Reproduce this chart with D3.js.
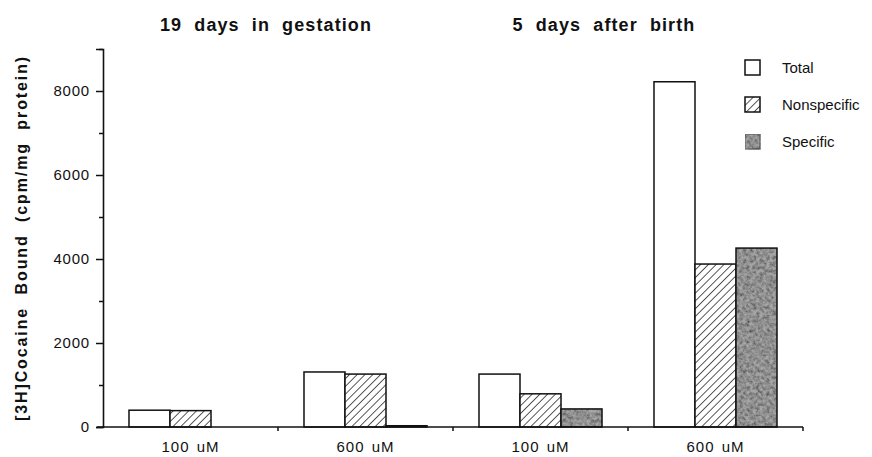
<!DOCTYPE html>
<html>
<head>
<meta charset="utf-8">
<script src="https://d3js.org/d3.v7.min.js"></script>
<style>
  body { margin: 0; background: #fff; }
  svg text { font-family: "Liberation Sans", Arial, sans-serif; fill: #111; }
</style>
</head>
<body>
<div id="chart"></div>
<script>
"use strict"

// data
var groups = ["100 uM", "600 uM", "100 uM", "600 uM"];
var panels = ["19 days in gestation", "5 days after birth"];
var series = ["Total", "Nonspecific", "Specific"];
var total = [400, 1310, 1260, 8220];
var nonspecific = [390, 1260, 790, 3880];
var specific = [0, 30, 430, 4260];
var yTicks = [0, 2000, 4000, 6000, 8000];
var yMinor = [1000, 3000, 5000, 7000, 9000];

var W = 872, H = 457;
var margin = { left: 103, right: 69, top: 49, bottom: 30 };

var svg = d3.select('#chart').append('svg')
    .attr('width', W).attr('height', H);

var defs = svg.append('defs');
defs.append('pattern')
    .attr('id', 'hatch')
    .attr('patternUnits', 'userSpaceOnUse')
    .attr('width', 5.5).attr('height', 5.5)
    .attr('patternTransform', 'rotate(45)')
    .append('line')
    .attr('x1', 0).attr('y1', 0).attr('x2', 0).attr('y2', 5.5)
    .attr('stroke', '#111').attr('stroke-width', 1.4);

// mottled grey for the "Specific" bars
var f = defs.append('filter').attr('id', 'grain')
    .attr('filterUnits', 'userSpaceOnUse')
    .attr('x', 0).attr('y', 0).attr('width', W).attr('height', H);
f.append('feTurbulence').attr('type', 'fractalNoise')
    .attr('baseFrequency', 0.3).attr('numOctaves', 3).attr('seed', 7).attr('result', 'n');
f.append('feColorMatrix').attr('in', 'n').attr('type', 'matrix')
    .attr('values', '1.3 0 0 0 0.05  1.3 0 0 0 0.05  1.3 0 0 0 0.05  0 0 0 0 1')
    .attr('result', 'g');
f.append('feComposite').attr('in', 'g').attr('in2', 'SourceGraphic').attr('operator', 'in')
    .attr('result', 'gi');
f.append('feBlend').attr('in', 'SourceGraphic').attr('in2', 'gi').attr('mode', 'multiply');

var fills = { Total: '#fff', Nonspecific: 'url(#hatch)', Specific: '#a8a8a8' };

var x = d3.scaleBand()
    .domain(d3.range(groups.length))
    .range([margin.left, W - margin.right]);

var xs = d3.scaleBand()
    .domain(series)
    .range([0, x.bandwidth()])
    .paddingOuter(0.634);

var y = d3.scaleLinear()
    .domain([0, 9000])
    .range([H - margin.bottom, margin.top]);

var rows = groups.map(function (g, i) {
    return { i: i, Total: total[i], Nonspecific: nonspecific[i], Specific: specific[i] };
});

// bars
var bars = [];
rows.forEach(function (r) {
    series.forEach(function (s) {
        bars.push({ i: r.i, s: s, v: r[s] });
    });
});

svg.append('g').selectAll('g.bar')
    .data(bars)
    .enter()
    .append('g')
    .attr('class', 'bar')
    .each(function (d) {
        var g = d3.select(this);
        var bx = x(d.i) + xs(d.s), bw = xs.bandwidth();
        var by = y(d.v), bh = y(0) - y(d.v);
        if (d.s === 'Nonspecific') {
            g.append('rect').attr('x', bx).attr('y', by).attr('width', bw).attr('height', bh)
                .attr('fill', '#fff');
        }
        g.append('rect')
            .attr('x', bx).attr('y', by).attr('width', bw).attr('height', bh)
            .attr('fill', fills[d.s])
            .attr('filter', d.s === 'Specific' ? 'url(#grain)' : null);
        g.append('rect')
            .attr('x', bx).attr('y', by).attr('width', bw).attr('height', bh)
            .attr('fill', 'none').attr('stroke', '#111').attr('stroke-width', 1.5);
    });

// y axis
var yAxis = svg.append('g')
    .attr('transform', 'translate(' + margin.left + ',0)')
    .call(d3.axisLeft(y).tickValues(yTicks).tickSize(7).tickPadding(6).tickFormat(d3.format('d')));
yAxis.selectAll('text').style('font-size', '15px').attr('letter-spacing', 0.8);

var yAxisMinor = svg.append('g')
    .attr('transform', 'translate(' + margin.left + ',0)')
    .call(d3.axisLeft(y).tickValues(yMinor).tickSize(4).tickFormat(''));
yAxisMinor.select('.domain').remove();

svg.selectAll('.domain').attr('stroke', '#111').attr('stroke-width', 1.6);
svg.selectAll('.tick line').attr('stroke', '#111').attr('stroke-width', 1.5);

// x axis
var xAxis = svg.append('g')
    .attr('transform', 'translate(0,' + y(0) + ')')
    .call(d3.axisBottom(x).tickSize(0).tickPadding(14).tickFormat(function (i) { return groups[i]; }));
xAxis.select('.domain').attr('d', 'M' + (margin.left - 6) + ',0H' + (W - margin.right))
    .attr('stroke', '#111').attr('stroke-width', 1.6);
xAxis.selectAll('text').style('font-size', '15px')
    .attr('letter-spacing', 1).attr('word-spacing', 2);

var bounds = d3.range(1, groups.length + 1).map(function (i) {
    return i < groups.length ? x(i) : x(i - 1) + x.bandwidth();
});
xAxis.selectAll('line.btick')
    .data(bounds)
    .enter()
    .append('line')
    .attr('class', 'btick')
    .attr('x1', d => d).attr('x2', d => d)
    .attr('y1', 0).attr('y2', 4)
    .attr('stroke', '#111').attr('stroke-width', 1.5);

// panel titles
svg.selectAll('text.title')
    .data(panels)
    .enter()
    .append('text')
    .attr('class', 'title')
    .attr('x', (d, k) => x(2 * k) + x.bandwidth() + (k === 0 ? -12 : -24))
    .attr('y', 31)
    .attr('text-anchor', 'middle')
    .style('font-size', '18px')
    .style('font-weight', 'bold')
    .attr('letter-spacing', 1.1)
    .attr('word-spacing', 6)
    .text(d => d);

// y label
svg.append('text')
    .attr('transform', 'translate(27,' + 238 + ') rotate(-90)')
    .attr('text-anchor', 'middle')
    .style('font-size', '16px')
    .style('font-weight', 'bold')
    .attr('letter-spacing', 1.9)
    .attr('word-spacing', 6)
    .text('[3H]Cocaine Bound (cpm/mg protein)');

// legend
var legend = svg.append('g').attr('transform', 'translate(745,60)');
var li = legend.selectAll('g')
    .data(series)
    .enter()
    .append('g')
    .attr('transform', (d, k) => 'translate(0,' + (k * 37) + ')');
li.filter(d => d === 'Nonspecific').append('rect')
    .attr('width', 15).attr('height', 15).attr('fill', '#fff');
li.append('rect')
    .attr('width', 15).attr('height', 15)
    .attr('fill', d => fills[d])
    .attr('filter', d => d === 'Specific' ? 'url(#grain)' : null)
    .attr('stroke', d => d === 'Specific' ? '#777' : '#111')
    .attr('stroke-width', 1.5);
li.append('text')
    .attr('x', 37).attr('y', 13)
    .style('font-size', '15px')
    .text(d => d);
</script>
</body>
</html>
